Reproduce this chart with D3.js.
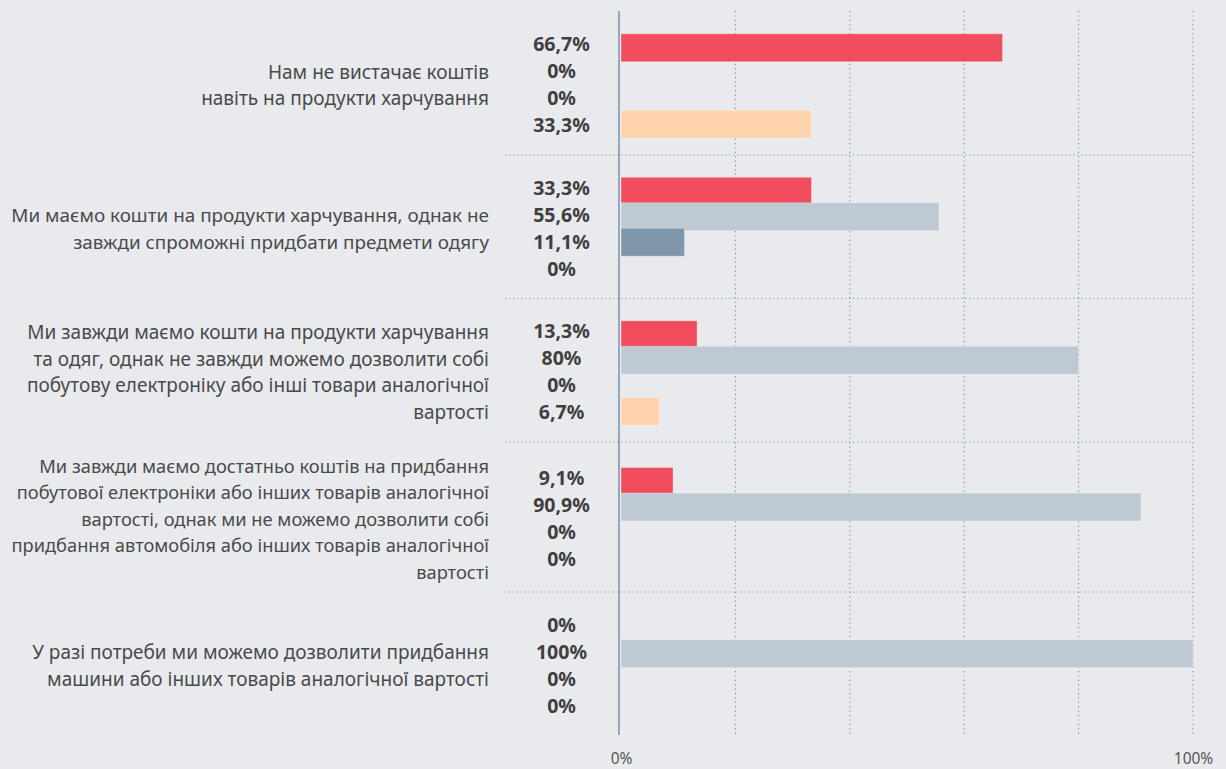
<!DOCTYPE html>
<html><head><meta charset="utf-8">
<script src="https://cdn.jsdelivr.net/npm/d3@7/dist/d3.min.js"></script>
<style>
html,body{margin:0;padding:0;background:#e9eaee;}
svg{display:block;font-family:"Noto Sans",sans-serif;}
</style></head>
<body><svg id="chart" width="1226" height="769"></svg>
<script>
const categories = [
  ["Нам не вистачає коштів", "навіть на продукти харчування"],
  ["Ми маємо кошти на продукти харчування, однак не", "завжди спроможні придбати предмети одягу"],
  ["Ми завжди маємо кошти на продукти харчування", "та одяг, однак не завжди можемо дозволити собі", "побутову електроніку або інші товари аналогічної", "вартості"],
  ["Ми завжди маємо достатньо коштів на придбання", "побутової електроніки або інших товарів аналогічної", "вартості, однак ми не можемо дозволити собі", "придбання автомобіля або інших товарів аналогічної", "вартості"],
  ["У разі потреби ми можемо дозволити придбання", "машини або інших товарів аналогічної вартості"]
];
const series1 = [66.7, 33.3, 13.3, 9.1, 0];
const series2 = [0, 55.6, 80, 90.9, 100];
const series3 = [0, 11.1, 0, 0, 0];
const series4 = [33.3, 0, 6.7, 0, 0];
const seriesColors = ["#f14d5f", "#bfc9d3", "#8097ab", "#fed3ae"];
const tickValues = [0, 100];
const gridValues = [20, 40, 60, 80, 100];

const seriesList = [series1, series2, series3, series4];
const svg = d3.select("#chart");
const x = d3.scaleLinear().domain([0, 100]).range([621, 1193]);

const top0 = 11, lineH = 26.5;
let acc = top0;
const bands = categories.map(lines => {
  const h = Math.max(143.5, lines.length * 26 + 20);
  const b = {y0: acc, y1: acc + h, lines};
  acc += h;
  return b;
});
const bottom = acc;

const fmt = v => (Math.round(v * 10) / 10).toString().replace(".", ",") + "%";

// vertical grid lines
svg.append("g").selectAll("line").data(gridValues).join("line")
  .attr("x1", d => x(d)).attr("x2", d => x(d))
  .attr("y1", top0).attr("y2", bottom)
  .attr("stroke", "#7f97ad").attr("stroke-width", 1.2)
  .attr("stroke-dasharray", "1.2,3.2");

// horizontal separators
svg.append("g").selectAll("line").data(bands.slice(1)).join("line")
  .attr("x1", 505).attr("x2", x(100))
  .attr("y1", d => d.y0 + 0.5).attr("y2", d => d.y0 + 0.5)
  .attr("stroke", "#7f97ad").attr("stroke-width", 1.2)
  .attr("stroke-dasharray", "1.2,2.8");

const labelRight = 489, labelMaxW = 478, labelFs = 19;
bands.forEach((b, gi) => {
  const vc = (b.y0 + b.y1) / 2 + 2;
  const g = svg.append("g");
  // labels
  const n = b.lines.length;
  const labs = g.selectAll("text.lab").data(b.lines).join("text")
    .attr("class", "lab")
    .attr("x", labelRight)
    .attr("y", (d, i) => vc + (i - (n - 1) / 2) * lineH + 7)
    .attr("text-anchor", "end")
    .attr("font-size", labelFs)
    .attr("fill", "#4a4a4a")
    .text(d => d);
  let maxW = 0;
  labs.each(function() { maxW = Math.max(maxW, this.getComputedTextLength()); });
  if (maxW > labelMaxW) labs.attr("font-size", labelFs * labelMaxW / maxW);
  const vals = seriesList.map(s => s[gi]);
  // values
  g.selectAll("text.val").data(vals).join("text")
    .attr("class", "val")
    .attr("x", 561.5)
    .attr("y", (d, i) => vc + (i - 1.5) * 27 + 7)
    .attr("text-anchor", "middle")
    .attr("font-size", 19.5)
    .attr("font-weight", 700)
    .attr("fill", "#3f3f3f")
    .text(d => fmt(d));
  // bars
  g.selectAll("rect").data(vals.map((v, i) => ({v, i})).filter(d => d.v > 0)).join("rect")
    .attr("x", x(0))
    .attr("y", d => vc - 51 + 25.5 * d.i)
    .attr("width", d => x(d.v) - x(0))
    .attr("height", 28)
    .attr("fill", d => seriesColors[d.i])
    .attr("stroke", "rgba(255,255,255,0.3)")
    .attr("stroke-width", 1);
});

// baseline axis
svg.append("line")
  .attr("x1", 619).attr("x2", 619)
  .attr("y1", top0).attr("y2", bottom)
  .attr("stroke", "#7d97ae").attr("stroke-width", 1.6);

// tick labels
const axis = d3.axisBottom(x).tickValues(tickValues).tickSize(0).tickFormat(d => d + "%");
const ag = svg.append("g").attr("transform", `translate(0,${bottom + 15})`).call(axis);
ag.select(".domain").remove();
ag.selectAll("text").attr("font-size", 15.5).attr("fill", "#555").attr("font-family", "Noto Sans, sans-serif");
</script>
</body></html>
